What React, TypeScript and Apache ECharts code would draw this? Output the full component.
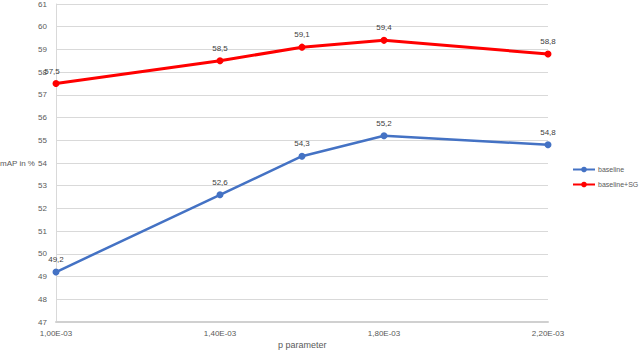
import React, { useEffect, useRef } from "react";
import * as echarts from "echarts";

const pValues = [0.001, 0.0014, 0.0016, 0.0018, 0.0022];
const baseline = [49.2, 52.6, 54.3, 55.2, 54.8];
const baselineSG = [57.5, 58.5, 59.1, 59.4, 58.8];
const seriesNames = ["baseline", "baseline+SG"];
const yAxisTitle = "mAP in %";
const xAxisTitle = "p parameter";

const FONT = "'Liberation Sans', 'DejaVu Sans', sans-serif";
const GREY = "#595959";

const fmtComma = (v: number) => v.toFixed(1).replace(".", ",");
const fmtX = (v: number) => (v * 1000).toFixed(2).replace(".", ",") + "E-03";

export default function App() {
  const ref = useRef<HTMLDivElement>(null);
  useEffect(() => {
    if (!ref.current) return;
    const chart = echarts.init(ref.current, null, { renderer: "svg" });
    const mk = (vals: number[], firstOffset?: number[]) =>
      vals.map((v, i) => {
        const item: any = { value: [pValues[i], v] };
        if (i === 0 && firstOffset) item.label = { offset: firstOffset };
        return item;
      });
    chart.setOption({
      animation: false,
      backgroundColor: "#ffffff",
      textStyle: { fontFamily: FONT },
      grid: { left: 56, top: 3, right: 92, bottom: 28, containLabel: false },
      legend: {
        orient: "vertical",
        left: 572,
        top: 166,
        padding: 0,
        itemWidth: 22,
        itemHeight: 7,
        itemGap: 8,
        textStyle: { fontSize: 7, color: GREY, fontFamily: FONT, padding: [0, 0, 0, -2] },
        data: seriesNames,
      },
      xAxis: {
        type: "value",
        min: 0.001,
        max: 0.0022,
        interval: 0.0004,
        axisLine: { show: true, lineStyle: { color: "#D0D0D0", width: 2 } },
        axisTick: { show: false },
        splitLine: { show: false },
        axisLabel: {
          formatter: fmtX,
          fontSize: 8,
          color: GREY,
          margin: 7,
          fontFamily: FONT,
        },
      },
      yAxis: {
        type: "value",
        min: 47,
        max: 61,
        interval: 1,
        axisLine: { show: true, lineStyle: { color: "#D9D9D9", width: 1 } },
        axisTick: { show: false },
        splitLine: { show: true, lineStyle: { color: "#D9D9D9", width: 1 } },
        axisLabel: { fontSize: 8, color: GREY, margin: 9, fontFamily: FONT },
      },
      graphic: [
        {
          type: "text",
          left: 0,
          top: 159,
          style: { text: yAxisTitle, fontSize: 8, fill: GREY, fontFamily: FONT },
        },
        {
          type: "text",
          left: 278,
          top: 340,
          style: { text: xAxisTitle, fontSize: 9, fill: GREY, fontFamily: FONT },
        },
      ],
      series: [
        {
          name: seriesNames[0],
          type: "line",
          data: mk(baseline),
          symbol: "circle",
          symbolSize: 7,
          itemStyle: { color: "#4472C4" },
          lineStyle: { color: "#4472C4", width: 2.5 },
          label: {
            show: true,
            position: "top",
            distance: 5,
            formatter: (p: any) => fmtComma(p.value[1]),
            fontSize: 8,
            color: "#404040",
            fontFamily: FONT,
          },
        },
        {
          name: seriesNames[1],
          type: "line",
          data: mk(baselineSG, [-4, 0]),
          symbol: "circle",
          symbolSize: 7,
          itemStyle: { color: "#FF0000" },
          lineStyle: { color: "#FF0000", width: 3 },
          label: {
            show: true,
            position: "top",
            distance: 5,
            formatter: (p: any) => fmtComma(p.value[1]),
            fontSize: 8,
            color: "#404040",
            fontFamily: FONT,
          },
        },
      ],
    });
    return () => chart.dispose();
  }, []);
  return (
    <div
      ref={ref}
      style={{ position: "fixed", left: 0, top: 0, width: 640, height: 350 }}
    />
  );
}
